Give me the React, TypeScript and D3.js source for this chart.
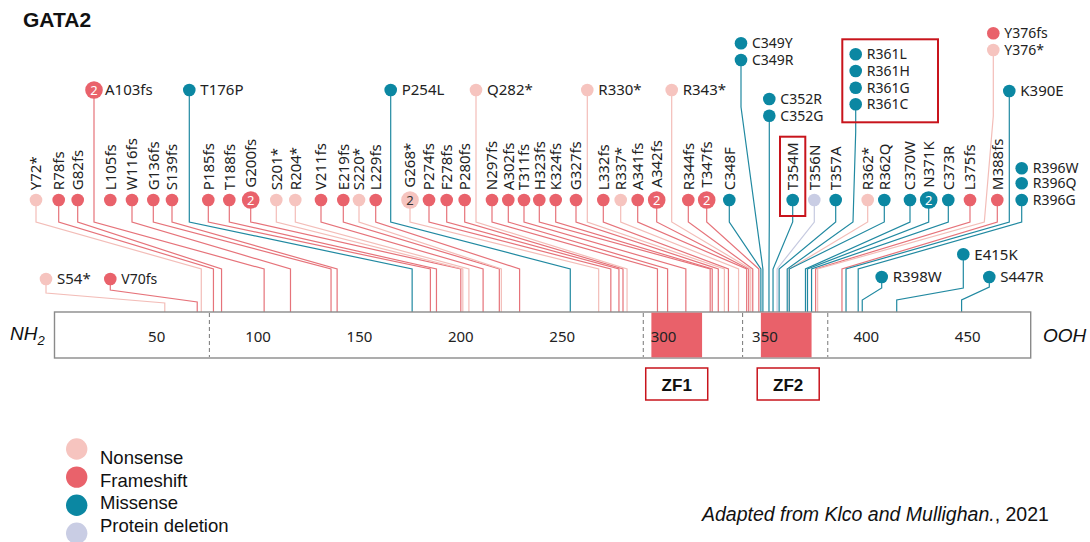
import React from 'react';
import * as d3 from 'd3';

// ---------------- DATA ----------------
const mutNames = [
  'S54*', 'V70fs', 'Y72*', 'R78fs', 'G82fs', 'A103fs', 'L105fs', 'W116fs', 'G136fs', 'S139fs',
  'T176P', 'P185fs', 'T188fs', 'G200fs', 'S201*', 'R204*', 'V211fs', 'E219fs', 'S220*', 'L229fs',
  'P254L', 'G268*', 'P274fs', 'F278fs', 'P280fs', 'Q282*', 'N297fs', 'A302fs', 'T311fs', 'H323fs',
  'K324fs', 'G327fs', 'R330*', 'L332fs', 'R337*', 'A341fs', 'A342fs', 'R343*', 'R344fs', 'T347fs',
  'C348F', 'C349Y', 'C349R', 'C352R', 'C352G', 'T354M', 'T356N', 'T357A', 'R361L', 'R361H',
  'R361G', 'R361C', 'R362*', 'R362Q', 'C370W', 'N371K', 'C373R', 'L375fs', 'Y376fs', 'Y376*',
  'M388fs', 'K390E', 'R396W', 'R396Q', 'R396G', 'R398W', 'E415K', 'S447R',
];
const mutPos = [
  54, 70, 72, 78, 82, 103, 105, 116, 136, 139,
  176, 185, 188, 200, 201, 204, 211, 219, 220, 229,
  254, 268, 274, 278, 280, 282, 297, 302, 311, 323,
  324, 327, 330, 332, 337, 341, 342, 343, 344, 347,
  348, 349, 349, 352, 352, 354, 356, 357, 361, 361,
  361, 361, 362, 362, 370, 371, 373, 375, 376, 376,
  388, 390, 396, 396, 396, 398, 415, 447,
];
// N = nonsense, F = frameshift, M = missense, D = protein deletion
const mutType = [
  'N', 'F', 'N', 'F', 'F', 'F', 'F', 'F', 'F', 'F',
  'M', 'F', 'F', 'F', 'N', 'N', 'F', 'F', 'N', 'F',
  'M', 'N', 'F', 'F', 'F', 'N', 'F', 'F', 'F', 'F',
  'F', 'F', 'N', 'F', 'N', 'F', 'F', 'N', 'F', 'F',
  'M', 'M', 'M', 'M', 'M', 'M', 'D', 'M', 'M', 'M',
  'M', 'M', 'N', 'M', 'M', 'M', 'M', 'F', 'F', 'N',
  'F', 'M', 'M', 'M', 'M', 'M', 'M', 'M',
];
const mutCount = [
  1, 1, 1, 1, 1, 2, 1, 1, 1, 1,
  1, 1, 1, 2, 1, 1, 1, 1, 1, 1,
  1, 2, 1, 1, 1, 1, 1, 1, 1, 1,
  1, 1, 1, 1, 1, 1, 2, 1, 1, 2,
  1, 1, 1, 1, 1, 1, 1, 1, 1, 1,
  1, 1, 1, 1, 1, 2, 1, 1, 1, 1,
  1, 1, 1, 1, 1, 1, 1, 1,
];

const proteinLength = 480;
const tickValues = [50, 100, 150, 200, 250, 300, 350, 400, 450];
const dividerPositions = [76, 290, 339, 381];
const zincFingers = [
  { name: 'ZF1', start: 294, end: 319 },
  { name: 'ZF2', start: 348, end: 373 },
];
const legendLabels = ['Nonsense', 'Frameshift', 'Missense', 'Protein deletion'];
const legendTypes = ['N', 'F', 'M', 'D'];

// ---------------- LAYOUT (label placement, pixels) ----------------
const headX: Record<string, number> = {
  'S54*': 46, 'V70fs': 110.3, 'Y72*': 36, 'R78fs': 58.7, 'G82fs': 77.7, 'A103fs': 94,
  'L105fs': 110.3, 'W116fs': 132, 'G136fs': 153.3, 'S139fs': 172, 'T176P': 189.3,
  'P185fs': 208.3, 'T188fs': 229.3, 'G200fs': 250.7, 'S201*': 276.3, 'R204*': 295.3,
  'V211fs': 321, 'E219fs': 343.3, 'S220*': 359, 'L229fs': 375.7, 'P254L': 390.7,
  'G268*': 410, 'P274fs': 429, 'F278fs': 446.7, 'P280fs': 464.7, 'Q282*': 476,
  'N297fs': 492, 'A302fs': 508.3, 'T311fs': 524, 'H323fs': 539.3, 'K324fs': 555.7,
  'G327fs': 576, 'R330*': 587.3, 'L332fs': 603.3, 'R337*': 620.7, 'A341fs': 637.7,
  'A342fs': 656.7, 'R343*': 671.7, 'R344fs': 688.3, 'T347fs': 706.7, 'C348F': 729.3,
  'C349Y': 741, 'C349R': 741, 'C352R': 769.3, 'C352G': 769.3, 'T354M': 792.7,
  'T356N': 814.3, 'T357A': 835.7, 'R361L': 855.7, 'R361H': 855.7, 'R361G': 855.7,
  'R361C': 855.7, 'R362*': 867.7, 'R362Q': 884.3, 'C370W': 910, 'N371K': 928.7,
  'C373R': 948.3, 'L375fs': 970, 'Y376fs': 993.3, 'Y376*': 993.3, 'M388fs': 997.3,
  'K390E': 1009.3, 'R396W': 1021.7, 'R396Q': 1021.7, 'R396G': 1021.7,
  'R398W': 881.7, 'E415K': 963.3, 'S447R': 989.3,
};
const headY: Record<string, number> = {
  'S54*': 279, 'V70fs': 279, 'A103fs': 90, 'T176P': 90, 'P254L': 90, 'Q282*': 90,
  'R330*': 90, 'R343*': 90, 'C349Y': 43.3, 'C349R': 60, 'C352R': 99, 'C352G': 115.7,
  'R361L': 54.3, 'R361H': 71, 'R361G': 87.7, 'R361C': 104.3, 'Y376fs': 33.3, 'Y376*': 50,
  'K390E': 91, 'R396W': 168.3, 'R396Q': 183.3, 'R396G': 200,
  'R398W': 277, 'E415K': 254.3, 'S447R': 277,
};
const TOP_ROW_Y = 200;
const horizontalLabels = new Set([
  'S54*', 'V70fs', 'A103fs', 'T176P', 'P254L', 'Q282*', 'R330*', 'R343*', 'C349Y', 'C349R',
  'C352R', 'C352G', 'R361L', 'R361H', 'R361G', 'R361C', 'Y376fs', 'Y376*', 'K390E',
  'R396W', 'R396Q', 'R396G', 'R398W', 'E415K', 'S447R',
]);
// elbows of the connector lines
const elbows: Record<string, { bends: [number, number][]; e2: number }> = {
  'S54*': { bends: [[0, 293]], e2: 303 },
  'V70fs': { bends: [[0, 290]], e2: 302 },
  'R398W': { bends: [[0, 288]], e2: 300 },
  'E415K': { bends: [[0, 288]], e2: 300 },
  'S447R': { bends: [[0, 287]], e2: 300 },
  'C349R': { bends: [[0, 107]], e2: 269 },
  'R361C': { bends: [[0, 132], [-2.7, 222]], e2: 269 },
  'Y376*': { bends: [[0, 116], [-9, 222]], e2: 269 },
};
const DEFAULT_ELBOW = { bends: [[0, 222]] as [number, number][], e2: 269 };

// ---------------- STYLE ----------------
const W = 1090;
const H = 542;
const BAR_TOP = 312;
const BAR_BOT = 358;
const dotColor: Record<string, string> = { N: '#f6c4bf', F: '#e9626b', M: '#0b87a2', D: '#c9cde4' };
const lineColor: Record<string, string> = { N: '#f3bdb8', F: '#e6737a', M: '#2189a1', D: '#c6cae0' };
const labelFont = "'Noto Sans', 'Open Sans', sans-serif";
const arial = "'Liberation Sans', Arial, sans-serif";
const BOX_RED = '#c8141c';

const x = d3.scaleLinear().domain([0, proteinLength]).range([55.3, 1028.5]);

type Mut = { name: string; pos: number; type: string; count: number; hx: number; hy: number; r: number; horiz: boolean; stacked: boolean };

const stackCounts = d3.rollup(mutNames, (v) => v.length, (n) => headX[n]);

const muts: Mut[] = mutNames.map((name, i) => ({
  name,
  pos: mutPos[i],
  type: mutType[i],
  count: mutCount[i],
  hx: headX[name],
  hy: headY[name] ?? TOP_ROW_Y,
  r: mutCount[i] > 1 ? 8.8 : 6.3,
  horiz: horizontalLabels.has(name),
  stacked: (stackCounts.get(headX[name]) ?? 1) > 1,
}));

// one connector per stack of heads: the lowest head owns the line
const stacks = d3.group(muts, (m) => `${m.hx}`);
const lineOwners = Array.from(stacks.values()).map((g) => g.reduce((a, b) => (b.hy > a.hy ? b : a)));

const lineGen = d3.line();

function connector(m: Mut): string {
  const el = elbows[m.name] ?? DEFAULT_ELBOW;
  const px = x(m.pos);
  const pts: [number, number][] = [[m.hx, m.hy]];
  el.bends.forEach(([dx, y]) => pts.push([m.hx + dx, y]));
  pts.push([px, el.e2]);
  pts.push([px, BAR_TOP]);
  return lineGen(pts) as string;
}

export default function App() {
  const t354 = muts.find((m) => m.name === 'T354M')!;
  const r361 = muts.filter((m) => m.name.startsWith('R361'));
  const r361Top = d3.min(r361, (m) => m.hy)!;
  const r361Bot = d3.max(r361, (m) => m.hy)!;
  const r361X = r361[0].hx;

  return (
    <svg width={W} height={H} style={{ position: 'absolute', left: 0, top: 0, background: '#fff' }}>
      <rect x={0} y={0} width={W} height={H} fill="#fff" />
      <text x={23} y={27} fontFamily={arial} fontWeight="bold" fontSize={21} fill="#111">GATA2</text>

      {/* connectors */}
      <g fill="none" strokeWidth={1.2}>
        {lineOwners.map((m) => (
          <path key={m.name} d={connector(m)} stroke={lineColor[m.type]} />
        ))}
      </g>

      {/* protein bar */}
      <rect x={x(0) - 0.8} y={BAR_TOP} width={x(proteinLength) - x(0) + 3} height={BAR_BOT - BAR_TOP}
        fill="#fff" stroke="#8a8a8a" strokeWidth={1.4} />
      {zincFingers.map((z) => (
        <rect key={z.name} x={x(z.start)} y={BAR_TOP + 0.7} width={x(z.end) - x(z.start)} height={BAR_BOT - BAR_TOP - 1.4}
          fill="#e9616a" />
      ))}
      {dividerPositions.map((p) => (
        <line key={p} x1={x(p)} x2={x(p)} y1={BAR_TOP + 1} y2={BAR_BOT - 1} stroke="#777" strokeWidth={1} strokeDasharray="4,3" />
      ))}
      {tickValues.map((t) => (
        <text key={t} x={x(t)} y={341.7} textAnchor="middle" fontFamily={labelFont} fontSize={15} fill="#222">{t}</text>
      ))}
      <text x={10} y={340} fontFamily={arial} fontStyle="italic" fontSize={19} fill="#111">
        NH<tspan fontSize={13} dy={5}>2</tspan>
      </text>
      <text x={1043} y={341.5} fontFamily={arial} fontStyle="italic" fontSize={19} fill="#111">OOH</text>

      {/* zinc finger labels */}
      {zincFingers.map((z) => {
        const cx = x((z.start + z.end) / 2) + (z.name === 'ZF2' ? 2 : 0);
        return (
          <g key={z.name}>
            <rect x={cx - 31} y={368} width={62} height={32} fill="#fff" stroke={BOX_RED} strokeWidth={1.5} />
            <text x={cx} y={390.5} textAnchor="middle" fontFamily={arial} fontWeight="bold" fontSize={17} fill="#111">{z.name}</text>
          </g>
        );
      })}

      {/* heads */}
      {muts.map((m) => (
        <g key={m.name}>
          <circle cx={m.hx} cy={m.hy} r={m.r} fill={dotColor[m.type]} />
          {m.count > 1 && (
            <text x={m.hx} y={m.hy + 4.6} textAnchor="middle" fontFamily={labelFont} fontSize={13}
              fill={m.type === 'N' ? '#333' : '#fff'}>{m.count}</text>
          )}
          {m.horiz ? (
            <text x={m.hx + 11} y={m.hy + (m.stacked ? 5 : 5.4)} fontFamily={labelFont} fontSize={m.stacked ? 14 : 15} fill="#222">{m.name}</text>
          ) : (
            <text transform={`translate(${m.hx + 5.3},${m.hy - m.r - 3.5}) rotate(-90)`} fontFamily={labelFont}
              fontSize={15} fill="#222">{m.name}</text>
          )}
        </g>
      ))}

      {/* highlight boxes */}
      <rect x={t354.hx - 12.7} y={136.7} width={25.3} height={t354.hy + 16 - 136.7} fill="none" stroke={BOX_RED} strokeWidth={2} />
      <rect x={r361X - 13.4} y={r361Top - 15} width={95.7} height={r361Bot - r361Top + 33} fill="none" stroke={BOX_RED} strokeWidth={2} />

      {/* legend */}
      {legendLabels.map((l, i) => (
        <g key={l}>
          <circle cx={76.7} cy={449 + i * 28.1} r={10.7} fill={dotColor[legendTypes[i]]} />
          <text x={100} y={464 + i * 22.6} fontFamily={arial} fontSize={18.5} fill="#111">{l}</text>
        </g>
      ))}

      {/* credit */}
      <text x={702} y={521} fontFamily={arial} fontSize={19.5} fill="#111">
        <tspan fontStyle="italic">Adapted from Klco and Mullighan.</tspan>, 2021
      </text>
    </svg>
  );
}
